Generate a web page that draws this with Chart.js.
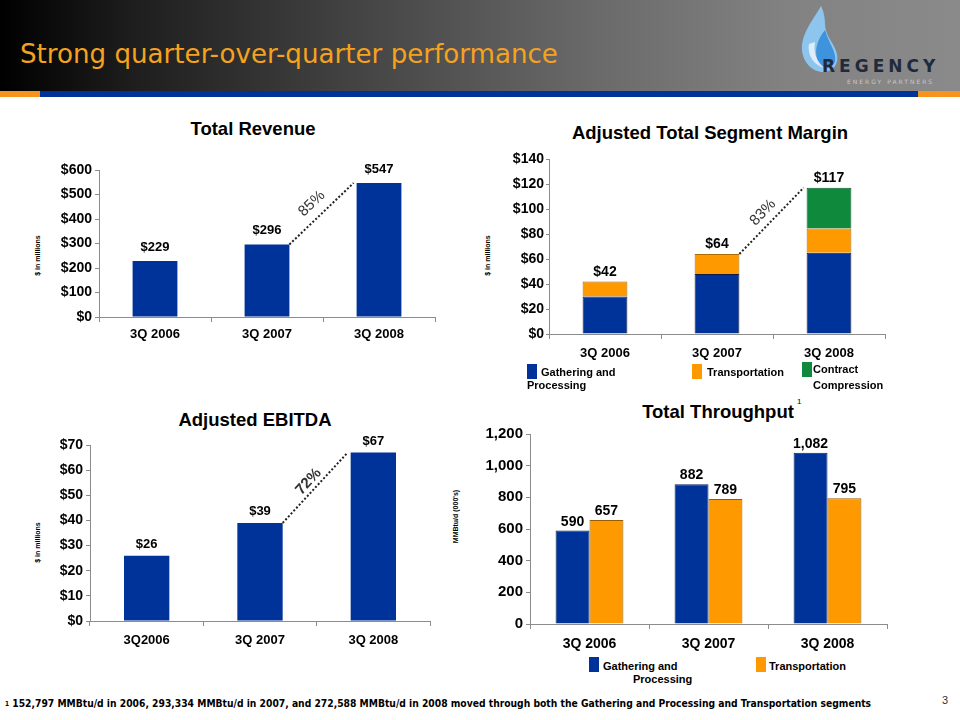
<!DOCTYPE html>
<html>
<head>
<meta charset="utf-8">
<script src="https://cdn.jsdelivr.net/npm/chart.js@4.4.0/dist/chart.umd.min.js"></script>
<style>
body { margin: 0; width: 960px; height: 720px; position: relative; background: #fff; overflow: hidden; font-family: "Liberation Sans", Arial, sans-serif; }
#header { position: absolute; left: 0; top: 0; width: 960px; height: 91px; background: linear-gradient(to right, #000 0%, #1e1e1e 14%, #454545 38%, #6a6a6a 62%, #828282 82%, #8a8a8a 100%); }
#strip { position: absolute; left: 0; top: 91px; width: 960px; height: 6px; background: #f7941d; }
#strip div { position: absolute; left: 40px; top: 0; width: 878px; height: 6px; background: #003399; }
#pageTitle { position: absolute; left: 20px; top: 40px; font-family: "DejaVu Sans Condensed", "DejaVu Sans", sans-serif; font-size: 27px; line-height: 27px; color: #f5a21e; white-space: nowrap; transform-origin: left top; }
.logoText { position: absolute; white-space: nowrap; font-family: "DejaVu Sans", sans-serif; }
.title { position: absolute; width: 340px; text-align: center; font-weight: bold; font-size: 18.5px; line-height: 18.5px; color: #000; white-space: nowrap; }
.unit { position: absolute; width: 90px; height: 9px; line-height: 9px; font-size: 7px; font-weight: bold; text-align: center; transform: rotate(-90deg); white-space: nowrap; }
.sw { position: absolute; width: 10px; height: 15px; }
.lg { position: absolute; font-size: 11px; font-weight: bold; line-height: 13px; white-space: nowrap; }
canvas { position: absolute; }
#foot { position: absolute; left: 5px; top: 698px; font-family: "Liberation Sans Narrow", "DejaVu Sans Condensed", sans-serif; font-size: 11px; line-height: 12px; font-weight: bold; white-space: nowrap; transform-origin: left top; }
#page { position: absolute; left: 942px; top: 694px; font-size: 11px; color: #333; }
</style>
</head>
<body>
<div id="header"></div>
<div id="strip"><div></div></div>
<div id="pageTitle">Strong quarter-over-quarter performance</div>

<svg style="position:absolute;left:795px;top:0" width="50" height="80" viewBox="0 0 50 80">
  <path d="M26 6 C18 20 6 34 7 50 C8 63 18 72 28 72 C38 72 44 64 42 54 C40 44 30 36 30 24 C30 16 28 10 26 6 Z" fill="#8ec5ee"/>
  <path d="M30 30 C22 40 18 52 24 64 C28 70 36 70 40 62 C42 52 34 44 30 30 Z" fill="#3f93dc"/>
  <path d="M14 44 C12 56 20 66 30 68 C22 62 18 54 20 42 Z" fill="#ffffff" opacity="0.7"/>
</svg>
<div class="logoText" style="left:822px;top:56px;font-size:17px;font-weight:bold;letter-spacing:4px;color:#1f2b3a">REGENCY</div>
<div class="logoText" style="left:847px;top:78px;font-size:6px;letter-spacing:2px;color:#c8c8c8">ENERGY PARTNERS</div>

<div class="title" style="left:83px;top:120px">Total Revenue</div>
<div class="title" style="left:540px;top:124px">Adjusted Total Segment Margin</div>
<div class="title" style="left:85px;top:411px">Adjusted EBITDA</div>
<div class="title" style="left:548px;top:403px">Total Throughput</div>
<div style="position:absolute;left:797px;top:397px;font-size:8px">1</div>

<div class="unit" style="left:-8px;top:251px">$ in millions</div>
<div class="unit" style="left:442px;top:251px">$ in millions</div>
<div class="unit" style="left:-8px;top:538px">$ in millions</div>
<div class="unit" style="left:410px;top:512px">MMBtu/d (000's)</div>

<canvas id="revenueChart" width="420" height="202" style="left:25px;top:145px"></canvas>
<canvas id="marginChart" width="417" height="229" style="left:478px;top:135px"></canvas>
<canvas id="ebitdaChart" width="410" height="226" style="left:30px;top:425px"></canvas>
<canvas id="throughputChart" width="450" height="236" style="left:447px;top:418px"></canvas>

<!-- 범례 -->
<div class="sw" style="left:527px;top:364px;background:#003399"></div>
<div class="lg" style="left:541px;top:366px">Gathering and</div>
<div class="lg" style="left:527px;top:379px">Processing</div>
<div class="sw" style="left:692px;top:364px;background:#ff9900"></div>
<div class="lg" style="left:707px;top:366px">Transportation</div>
<div class="sw" style="left:802px;top:362px;background:#0f8a3c"></div>
<div class="lg" style="left:813px;top:363px">Contract</div>
<div class="lg" style="left:813px;top:379px">Compression</div>

<div class="sw" style="left:589px;top:657px;background:#003399"></div>
<div class="lg" style="left:603px;top:660px">Gathering and</div>
<div class="lg" style="left:633px;top:673px">Processing</div>
<div class="sw" style="left:756px;top:657px;background:#ff9900"></div>
<div class="lg" style="left:769px;top:660px">Transportation</div>

<div id="foot"><span style="font-size:7px;vertical-align:top">1</span> 152,797 MMBtu/d in 2006, 293,334 MMBtu/d in 2007, and 272,588 MMBtu/d in 2008 moved through both the Gathering and Processing and Transportation segments</div>
<div id="page">3</div>

<script>
// 데이터
const revenueLabels = ['3Q 2006', '3Q 2007', '3Q 2008'];
const revenueValues = [229, 296, 547];
const revenueTicks = [0, 600, 100]; // min, max, step

const marginLabels = ['3Q 2006', '3Q 2007', '3Q 2008'];
const marginGathering = [30, 48, 65];
const marginTransport = [12, 16, 19.5];
const marginCompression = [0, 0, 32.5];
const marginTicks = [0, 140, 20];

const ebitdaLabels = ['3Q2006', '3Q 2007', '3Q 2008'];
const ebitdaValues = [26, 39, 67];
const ebitdaTicks = [0, 70, 10];

const throughputLabels = ['3Q 2006', '3Q 2007', '3Q 2008'];
const throughputGathering = [590, 882, 1082];
const throughputTransport = [657, 789, 795];
const throughputTicks = [0, 1200, 200];

const growthTexts = ['85%', '83%', '72%'];

const BLUE = '#003399';
const ORANGE = '#ff9900';
const GREEN = '#0f8a3c';
const FONT = 'Liberation Sans';

// 헤더 텍스트 폭 맞추기
function fitWidth(id, w) {
    const el = document.getElementById(id);
    el.style.transform = `scaleX(${w / el.scrollWidth})`;
}
fitWidth('pageTitle', 538);
fitWidth('foot', 866);

// 막대 위 값 표시
const valueLabels = {
    id: 'valueLabels',
    afterDatasetsDraw(chart, args, opts) {
        const { ctx } = chart;
        const y = chart.scales.y;
        ctx.save();
        ctx.font = opts.font;
        ctx.fillStyle = '#000';
        ctx.textAlign = 'center';
        ctx.textBaseline = 'alphabetic';
        if (opts.stackTotal) {
            const meta = chart.getDatasetMeta(0);
            chart.data.labels.forEach((l, i) => {
                const total = chart.data.datasets.reduce((s, d) => s + (d.data[i] || 0), 0);
                ctx.fillText(opts.format(total), meta.data[i].x, y.getPixelForValue(total) - opts.gap);
            });
        } else {
            chart.data.datasets.forEach((d, di) => {
                chart.getDatasetMeta(di).data.forEach((bar, i) => {
                    ctx.fillText(opts.format(d.data[i]), bar.x, bar.y - opts.gap);
                });
            });
        }
        ctx.restore();
    }
};

// 성장률 점선
const growthLine = {
    id: 'growthLine',
    afterDatasetsDraw(chart, args, opts) {
        if (!opts.text) return;
        const { ctx } = chart;
        const y = chart.scales.y;
        const meta = chart.getDatasetMeta(0);
        const tot = i => chart.data.datasets.reduce((s, d) => s + (d.data[i] || 0), 0);
        const a = meta.data[1], b = meta.data[2];
        const x1 = a.x + a.width / 2, y1 = y.getPixelForValue(tot(1));
        const x2 = b.x - b.width / 2 - 3, y2 = y.getPixelForValue(tot(2));
        ctx.save();
        ctx.strokeStyle = '#222';
        ctx.lineWidth = 2;
        ctx.setLineDash([2, 2]);
        ctx.beginPath();
        ctx.moveTo(x1, y1);
        ctx.lineTo(x2, y2);
        ctx.stroke();
        const ang = Math.atan2(y2 - y1, x2 - x1);
        const mx = (x1 + x2) / 2, my = (y1 + y2) / 2;
        ctx.translate(mx + Math.sin(ang) * opts.offset, my - Math.cos(ang) * opts.offset);
        ctx.rotate(ang);
        ctx.font = opts.font;
        ctx.fillStyle = '#333';
        ctx.textAlign = 'center';
        ctx.textBaseline = 'middle';
        ctx.fillText(opts.text, 0, 0);
        ctx.restore();
    }
};

function makeScales(ticks, yWidth, fmt, o) {
    return {
        x: {
            stacked: !!o.stacked,
            grid: { display: true, drawOnChartArea: false, offset: true, tickLength: 5, color: '#8c8c8c' },
            border: { color: '#8c8c8c' },
            ticks: { color: '#000', padding: o.xPad, font: { family: FONT, weight: 'bold', size: o.xSize } },
            afterFit(s) { s.height = 30; s.paddingLeft = 0; s.paddingRight = 0; }
        },
        y: {
            stacked: !!o.stacked,
            min: ticks[0],
            max: ticks[1],
            grid: { display: true, drawOnChartArea: false, tickLength: o.yTick, color: '#8c8c8c' },
            border: { color: '#8c8c8c' },
            ticks: { stepSize: ticks[2], color: '#000', padding: o.yPad, callback: fmt, font: { family: FONT, weight: 'bold', size: o.ySize } },
            afterFit(s) { s.width = yWidth; s.paddingTop = 0; s.paddingBottom = 0; }
        }
    };
}

function baseOptions(scales, padTop, padRight, labels, growth) {
    return {
        responsive: false,
        animation: false,
        layout: { padding: { top: padTop, right: padRight, left: 0, bottom: 0 } },
        scales: scales,
        plugins: {
            legend: { display: false },
            tooltip: { enabled: false },
            valueLabels: labels,
            growthLine: growth
        }
    };
}

const dollar = v => '$' + v;
const comma = v => v.toLocaleString('en-US');

new Chart(document.getElementById('revenueChart'), {
    type: 'bar',
    data: {
        labels: revenueLabels,
        datasets: [{ data: revenueValues, backgroundColor: BLUE, categoryPercentage: 0.8, barPercentage: 0.5 }]
    },
    options: baseOptions(
        makeScales(revenueTicks, 74, dollar, { xSize: 13, ySize: 14, xPad: 5, yPad: 3, yTick: 4 }),
        25, 10,
        { font: `bold 13px ${FONT}`, gap: 10, format: dollar },
        { text: growthTexts[0], font: `15px ${FONT}`, offset: 14 }
    ),
    plugins: [valueLabels, growthLine]
});

new Chart(document.getElementById('marginChart'), {
    type: 'bar',
    data: {
        labels: marginLabels,
        datasets: [
            { label: 'Gathering and Processing', data: marginGathering, backgroundColor: BLUE, borderColor: '#111a40', borderWidth: 1, categoryPercentage: 0.8, barPercentage: 0.5 },
            { label: 'Transportation', data: marginTransport, backgroundColor: ORANGE, borderColor: '#b06a00', borderWidth: 1, categoryPercentage: 0.8, barPercentage: 0.5 },
            { label: 'Contract Compression', data: marginCompression, backgroundColor: GREEN, borderColor: '#0a5a28', borderWidth: 1, categoryPercentage: 0.8, barPercentage: 0.5 }
        ]
    },
    options: baseOptions(
        makeScales(marginTicks, 71, dollar, { stacked: true, xSize: 13, ySize: 14, xPad: 7, yPad: 2, yTick: 3 }),
        24, 10,
        { font: `bold 14px ${FONT}`, gap: 6, format: v => '$' + Math.round(v), stackTotal: true },
        { text: growthTexts[1], font: `15px ${FONT}`, offset: 12 }
    ),
    plugins: [valueLabels, growthLine]
});

new Chart(document.getElementById('ebitdaChart'), {
    type: 'bar',
    data: {
        labels: ebitdaLabels,
        datasets: [{ data: ebitdaValues, backgroundColor: BLUE, categoryPercentage: 0.8, barPercentage: 0.5 }]
    },
    options: baseOptions(
        makeScales(ebitdaTicks, 60, dollar, { xSize: 13, ySize: 14, xPad: 7, yPad: 3, yTick: 4 }),
        20, 10,
        { font: `bold 13px ${FONT}`, gap: 8, format: dollar },
        { text: growthTexts[2], font: `bold 15px ${FONT}`, offset: 9 }
    ),
    plugins: [valueLabels, growthLine]
});

new Chart(document.getElementById('throughputChart'), {
    type: 'bar',
    data: {
        labels: throughputLabels,
        datasets: [
            { label: 'Gathering and Processing', data: throughputGathering, backgroundColor: BLUE, borderColor: '#0b1f5c', borderWidth: 1, categoryPercentage: 0.57, barPercentage: 1 },
            { label: 'Transportation', data: throughputTransport, backgroundColor: ORANGE, borderColor: '#9a5c00', borderWidth: 1, categoryPercentage: 0.57, barPercentage: 1 }
        ]
    },
    options: baseOptions(
        makeScales(throughputTicks, 83, comma, { xSize: 14, ySize: 15, xPad: 7, yPad: 3, yTick: 4 }),
        16, 10,
        { font: `bold 14px ${FONT}`, gap: 5, format: comma },
        { text: null }
    ),
    plugins: [valueLabels, growthLine]
});
</script>
</body>
</html>
